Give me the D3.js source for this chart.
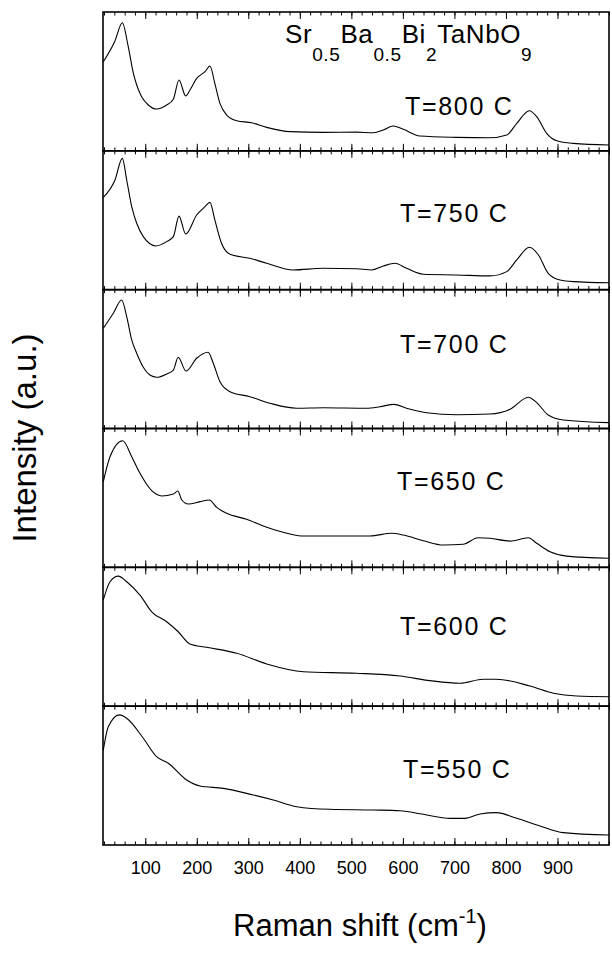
<!DOCTYPE html>
<html>
<head>
<meta charset="utf-8">
<script src="https://cdn.jsdelivr.net/npm/d3@7/dist/d3.min.js"></script>
<style>
  html, body { margin: 0; padding: 0; background: #fff; }
  svg { display: block; }
  text { font-family: "Liberation Sans", Arial, Helvetica, sans-serif; fill: #000; }
</style>
</head>
<body>
<svg id="chart" width="612" height="954"></svg>
<script>
// Raman spectra of Sr0.5Ba0.5Bi2TaNbO9 annealed at different temperatures.
// Each spectrum: [Raman shift (cm^-1), intensity (a.u., panel-normalised 0-100)]
const temperatures = ["T=800 C", "T=750 C", "T=700 C", "T=650 C", "T=600 C", "T=550 C"];

const spec800 = [[18.6,64.2],[41,79],[55.5,92.3],[67,75],[77,55.8],[83.4,47.4],[93,39],[106,33],[122,30.1],[141.6,33],[154.5,37.1],[165.5,51],[178.5,39.5],[186.8,43.8],[199.8,52.2],[216,57],[225.6,61.1],[235,48.6],[245,34.2],[258,25.8],[277.5,21.7],[306.6,20.2],[335.7,16.9],[381,13.8],[445.5,13.3],[510,13.5],[542.5,13],[562,15],[581,17.9],[600.8,15.5],[633,10.7],[704,9.7],[769,9.4],[801.5,11.4],[821,19.8],[845.4,28.9],[859.7,24.6],[879,12.6],[898.5,7.3],[930.7,5.4],[1000,4.2]];
const spec750 = [[18.6,66.5],[41.3,79],[55.5,94.6],[64,79],[73.7,59.8],[83.4,47.8],[96.2,38.2],[120.9,31.5],[141.6,34.6],[154.5,38.2],[165.5,53],[178.5,40.1],[199.8,53.8],[216,59.8],[225.6,62.9],[235,50.2],[248,33.4],[264.5,25.5],[303,22.6],[335.7,19],[387,14.2],[445.5,15.4],[510,15.1],[539,14.2],[562,17],[584.7,19],[607,15.4],[639.6,11.1],[704,10.6],[769,9.9],[801.5,13],[821,21.4],[845.4,30.5],[863,25],[882,11.8],[905,7],[930.7,5.8],[1000,5]];
const spec700 = [[18.6,72.2],[38,83],[54.3,92.6],[64,80.5],[73.7,63.8],[83.4,54.2],[96.2,44.1],[109,38.5],[122,36.9],[141.6,39.3],[154.5,42.1],[164,51.3],[179,41.4],[199.8,50.6],[222,54.9],[232,47],[245,33.7],[264.5,26.5],[303,22.9],[342,18.2],[394,14.6],[445.5,15],[529.7,14.6],[555.5,15.7],[582.6,17.4],[607,14.6],[646,11.4],[704,9.9],[769,10.4],[808,13.8],[843.4,22.5],[859.7,18.6],[882,9.7],[911.3,6.1],[1000,4.2]];
const spec650 = [[18.6,61.7],[31.6,79.7],[56.2,91.2],[73.7,79.7],[89.8,67.7],[112.5,55.2],[131.9,51.4],[154.5,52.8],[163,55],[171,48.5],[183.6,45.6],[206.2,47.3],[224.3,48.5],[238.7,43.2],[258,38.9],[296.8,34.6],[335.7,28.8],[381,24],[406.7,22.6],[478,22.6],[536,22.6],[578,24.5],[600.8,23.3],[639.6,19.2],[678.5,16.1],[717,16.6],[746,21.3],[769,20.9],[808,18.9],[843.4,21.3],[859.7,17.3],[885.5,11.2],[917.8,8.1],[1000,6.5]];
const spec600 = [[18.6,76.5],[31.6,89.6],[47.7,93.7],[64,89.6],[89.8,80],[112.5,68],[141.6,60.8],[164,53.6],[186.8,44.8],[219,42.4],[277.5,38.1],[335.7,30.4],[406.7,24.8],[510,23.7],[594.4,21.7],[652.6,18.4],[710.8,16.5],[756,19.4],[781.5,19.4],[846.7,14.5],[892,9.3],[937.2,7.3],[1000,6.8]];
const spec550 = [[18.6,68.4],[28.3,85.2],[49.7,93.7],[64,91.3],[96.2,76.9],[122,63.6],[144.7,58.9],[180.4,46.8],[206.2,42.5],[251.5,40.8],[309.7,36],[348.5,32.4],[394,27.6],[458.5,25.7],[542.5,25.2],[594.4,24.7],[639.6,22.1],[691.4,19.2],[720.5,19.2],[749.6,22.3],[781.5,23.3],[821,19.2],[866,13.7],[911.3,8.9],[1000,7.2]];
const spectra = [spec800, spec750, spec700, spec650, spec600, spec550];

const xMajorTicks = [100, 200, 300, 400, 500, 600, 700, 800, 900];
const xMinorTicks = d3.range(20, 1001, 20);

// ---- layout ----
const W = 612, H = 954;
const margin = { top: 12, right: 3, bottom: 109, left: 103 };
const plotW = W - margin.left - margin.right;
const plotH = H - margin.top - margin.bottom;
const panelH = plotH / spectra.length;
// label anchor inside each panel (x in px from left of plot, baseline from panel top)
const labelPos = [[302, 103], [297, 71], [297, 63], [294, 61.5], [297, 68], [300, 72]];

const svg = d3.select("#chart");

const x = d3.scaleLinear().domain([18, 1000]).range([margin.left, margin.left + plotW]);

const line = d3.line().curve(d3.curveMonotoneX);

spectra.forEach((spec, i) => {
  const top = margin.top + i * panelH;
  const bottom = top + panelH;
  const y = d3.scaleLinear().domain([0, 100]).range([bottom, top]);
  const g = svg.append("g");

  // top axis: ticks pointing down into panel
  g.append("g").attr("transform", `translate(0,${top})`)
    .call(d3.axisTop(x).tickValues(xMinorTicks).tickSize(-3.5).tickFormat(""))
    .call(s => s.select(".domain").remove());
  g.append("g").attr("transform", `translate(0,${top})`)
    .call(d3.axisTop(x).tickValues(xMajorTicks).tickSize(-7).tickFormat(""))
    .call(s => s.select(".domain").remove());
  // bottom axis: ticks pointing up into panel
  g.append("g").attr("transform", `translate(0,${bottom})`)
    .call(d3.axisBottom(x).tickValues(xMinorTicks).tickSize(-3.5).tickFormat(""))
    .call(s => s.select(".domain").remove());
  const bAx = g.append("g").attr("transform", `translate(0,${bottom})`)
    .call(d3.axisBottom(x).tickValues(xMajorTicks).tickSize(-7)
      .tickFormat(i === spectra.length - 1 ? d3.format("d") : ""))
    .call(s => s.select(".domain").remove());
  bAx.selectAll("text")
    .attr("y", 16).attr("dy", "0.71em")
    .style("font-size", "18px")
    .style("font-family", "'Liberation Sans', Arial, sans-serif");

  g.selectAll(".tick line").attr("stroke", "#000").attr("stroke-width", 1);

  // frame
  g.append("rect")
    .attr("x", margin.left).attr("y", top)
    .attr("width", plotW).attr("height", panelH)
    .attr("fill", "none").attr("stroke", "#000").attr("stroke-width", 1.6);

  // spectrum
  g.append("path")
    .attr("d", line(spec.map(d => [x(d[0]), y(d[1])])))
    .attr("fill", "none").attr("stroke", "#000").attr("stroke-width", 1.1);

  // temperature label
  g.append("text")
    .attr("x", margin.left + labelPos[i][0]).attr("y", top + labelPos[i][1])
    .style("font-size", "25px").style("letter-spacing", "1.7px")
    .text(temperatures[i]);
});

// compound title (subscripts set well below the baseline)
const title = svg.append("text").attr("x", 285).attr("y", 43).style("font-size", "26px").style("letter-spacing", "0.6px");
const parts = [["Sr", 0], ["0.5", 1], ["Ba", 0], ["0.5", 1], ["Bi", 0], ["2", 1], ["TaNbO", 0], ["9", 1]];
const subDrop = 18;
let prevSub = false;
parts.forEach(([t, sub]) => {
  const ts = title.append("tspan").text(t);
  if (sub) { ts.attr("dy", prevSub ? 0 : subDrop).style("font-size", "19px"); }
  else { ts.attr("dy", prevSub ? -subDrop : 0); }
  prevSub = !!sub;
});

// axis titles
svg.append("text")
  .attr("transform", `translate(36,438) rotate(-90)`)
  .attr("text-anchor", "middle")
  .style("font-size", "33px")
  .text("Intensity (a.u.)");

const xt = svg.append("text")
  .attr("x", 360).attr("y", 936)
  .attr("text-anchor", "middle")
  .style("font-size", "31px");
xt.append("tspan").text("Raman shift (cm");
xt.append("tspan").attr("dy", -13).style("font-size", "20px").text("-1");
xt.append("tspan").attr("dy", 13).text(")");
</script>
</body>
</html>
